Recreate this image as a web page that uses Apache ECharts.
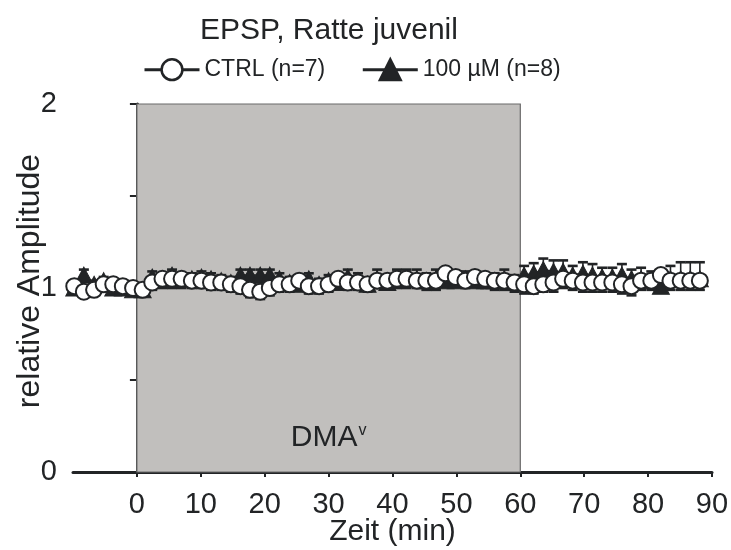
<!DOCTYPE html>
<html>
<head>
<meta charset="utf-8">
<script src="https://cdn.jsdelivr.net/npm/echarts@6/dist/echarts.min.js"></script>
<style>html,body{margin:0;padding:0;background:#fff}#c{width:731px;height:550px}</style>
</head>
<body>
<div id="c"></div>
<script>
var FONT = "'Liberation Sans', Arial, sans-serif";
var times = [-9.8,-8.3,-6.7,-5.2,-3.7,-2.2,-0.6,0.9,2.4,4.0,5.5,7.0,8.6,10.1,11.6,13.2,14.7,16.2,17.7,19.3,20.8,22.3,23.9,25.4,26.9,28.5,30.0,31.5,33.0,34.6,36.1,37.6,39.2,40.7,42.2,43.8,45.3,46.8,48.3,49.9,51.4,52.9,54.5,56.0,57.5,59.1,60.6,62.1,63.6,65.2,66.7,68.2,69.8,71.3,72.8,74.4,75.9,77.4,78.9,80.5,82.0,83.5,85.1,86.6,88.1];
var ctrl = [1.01,0.98,0.99,1.02,1.02,1.01,1.00,0.99,1.03,1.05,1.05,1.05,1.04,1.04,1.03,1.03,1.02,1.01,0.99,0.98,1.00,1.02,1.02,1.04,1.01,1.01,1.02,1.05,1.03,1.03,1.02,1.04,1.04,1.05,1.05,1.04,1.04,1.04,1.08,1.06,1.04,1.06,1.05,1.04,1.04,1.03,1.02,1.01,1.02,1.03,1.05,1.04,1.03,1.03,1.03,1.03,1.02,1.01,1.04,1.04,1.07,1.04,1.04,1.04,1.04];
var ctrlErr = [0.03,0.03,0.03,0.03,0.03,0.03,0.03,0.03,0.04,0.05,0.05,0.05,0.04,0.04,0.04,0.04,0.04,0.04,0.04,0.04,0.04,0.04,0.04,0.04,0.04,0.04,0.04,0.05,0.04,0.04,0.04,0.04,0.04,0.05,0.05,0.04,0.05,0.05,0.05,0.05,0.04,0.05,0.05,0.05,0.05,0.05,0.05,0.04,0.04,0.05,0.05,0.05,0.05,0.05,0.05,0.05,0.05,0.05,0.05,0.05,0.05,0.05,0.05,0.05,0.05];
var dma = [1.00,1.07,1.02,1.04,1.00,1.00,0.99,0.99,1.06,1.05,1.07,1.05,1.05,1.06,1.05,1.04,1.03,1.07,1.07,1.07,1.07,1.05,1.03,1.02,1.05,1.02,1.04,1.03,1.06,1.04,1.02,1.05,1.03,1.05,1.05,1.05,1.04,1.05,1.04,1.04,1.05,1.04,1.04,1.04,1.05,1.03,1.07,1.08,1.10,1.09,1.09,1.07,1.08,1.07,1.06,1.06,1.07,1.05,1.05,1.04,1.01,1.05,1.05,1.05,1.05];
var dmaErr = [0.02,0.03,0.02,0.02,0.02,0.02,0.02,0.02,0.03,0.03,0.03,0.03,0.03,0.03,0.03,0.03,0.03,0.03,0.03,0.03,0.03,0.03,0.03,0.03,0.03,0.03,0.03,0.03,0.04,0.04,0.03,0.05,0.03,0.05,0.05,0.05,0.04,0.05,0.04,0.04,0.04,0.04,0.04,0.04,0.05,0.04,0.05,0.055,0.06,0.06,0.06,0.05,0.06,0.06,0.05,0.05,0.06,0.05,0.06,0.05,0.05,0.07,0.09,0.09,0.09];
var xTicks = [0,10,20,30,40,50,60,70,80,90];
var yTickLabels = [0,1,2];
var names = ['CTRL (n=7)', '100 \u00b5M (n=8)'];
var INK = '#222426';

function errSeries(vals, errs, dir, z) {
  return {
    type: 'custom', z: z, silent: true,
    encode: {x: 0, y: 1},
    renderItem: function (params, api) {
      var x = api.value(0), v = api.value(1), e = api.value(2);
      var p0 = api.coord([x, v]);
      var p1 = api.coord([x, v + dir * e]);
      return {type: 'group', children: [
        {type: 'line', shape: {x1: p0[0], y1: p0[1], x2: p1[0], y2: p1[1]}, style: {stroke: INK, lineWidth: 1.6}},
        {type: 'line', shape: {x1: p1[0] - 5, y1: p1[1], x2: p1[0] + 5, y2: p1[1]}, style: {stroke: INK, lineWidth: 2.6}}
      ]};
    },
    data: times.map(function (t, i) { return [t, vals[i], errs[i]]; })
  };
}

var chart = echarts.init(document.getElementById('c'), null, {renderer: 'canvas'});
chart.setOption({
  animation: false,
  backgroundColor: '#fff',
  textStyle: {fontFamily: FONT, color: INK},
  title: {text: 'EPSP, Ratte juvenil', left: 195, top: 11,
    textStyle: {fontFamily: FONT, fontSize: 30, fontWeight: 'normal', color: INK}},
  legend: {
    data: names, top: 53, left: 138, itemGap: 36, itemWidth: 55, itemHeight: 26,
    lineStyle: {width: 3},
    itemStyle: {borderWidth: 2.5},
    textStyle: {fontFamily: FONT, fontSize: 23, color: INK}
  },
  grid: {left: 73, right: 19, top: 104, bottom: 78, containLabel: false, outerBoundsMode: 'none'},
  xAxis: {
    type: 'value', min: -10, max: 90, interval: 10,
    name: 'Zeit (min)', nameLocation: 'middle', nameGap: 45, nameMoveOverlap: false,
    nameTextStyle: {fontFamily: FONT, fontSize: 30, color: INK},
    axisLine: {lineStyle: {color: INK, width: 3}},
    axisTick: {inside: false, length: 5, lineStyle: {color: INK, width: 2},
      customValues: xTicks},
    axisLabel: {fontFamily: FONT, fontSize: 29, color: INK, margin: 18,
      customValues: xTicks, formatter: function (v) { return v < 0 ? '' : String(v); }},
    splitLine: {show: false}
  },
  yAxis: {
    type: 'value', min: 0, max: 2, interval: 0.5,
    name: 'relative Amplitude', nameLocation: 'middle', nameGap: 27, nameMoveOverlap: false,
    nameTextStyle: {fontFamily: FONT, fontSize: 32, color: INK, padding: [0, 0, 0, 14]},
    axisLine: {show: true, lineStyle: {color: INK, width: 3}},
    axisTick: {show: true, length: 7, lineStyle: {color: INK, width: 2}},
    axisLabel: {fontFamily: FONT, fontSize: 29, color: INK, margin: 16,
      formatter: function (v) { return yTickLabels.indexOf(v) >= 0 ? String(v) : ''; }},
    splitLine: {show: false}
  },
  series: [
    {
      type: 'line', z: 0, data: [], silent: true,
      markArea: {
        silent: true,
        itemStyle: {color: '#c1bfbd', borderColor: '#6a6a6a', borderWidth: 1.2},
        label: {show: true, position: 'insideBottom', distance: 20,
          formatter: '{a|DMA}{b|v}',
          rich: {a: {fontFamily: FONT, fontSize: 30, color: INK},
                 b: {fontFamily: FONT, fontSize: 16, color: INK, verticalAlign: 'top', padding: [0, 0, 14, 1]}}},
        data: [[{xAxis: 0, yAxis: 0}, {xAxis: 60, yAxis: 2}]]
      }
    },
    errSeries(dma, dmaErr, 1, 1),
    {
      name: names[1], type: 'line', z: 2,
      data: times.map(function (t, i) { return [t, dma[i]]; }),
      symbol: 'triangle', symbolSize: [17, 16], showAllSymbol: true,
      lineStyle: {color: INK, width: 1.5},
      itemStyle: {color: INK, borderColor: INK, borderWidth: 1}
    },
    errSeries(ctrl, ctrlErr, -1, 3),
    {
      name: names[0], type: 'line', z: 4,
      data: times.map(function (t, i) { return [t, ctrl[i]]; }),
      symbol: 'circle', symbolSize: 16, showAllSymbol: true,
      lineStyle: {color: INK, width: 1.5},
      itemStyle: {color: '#ffffff', borderColor: INK, borderWidth: 2}
    }
  ]
});
</script>
</body>
</html>
